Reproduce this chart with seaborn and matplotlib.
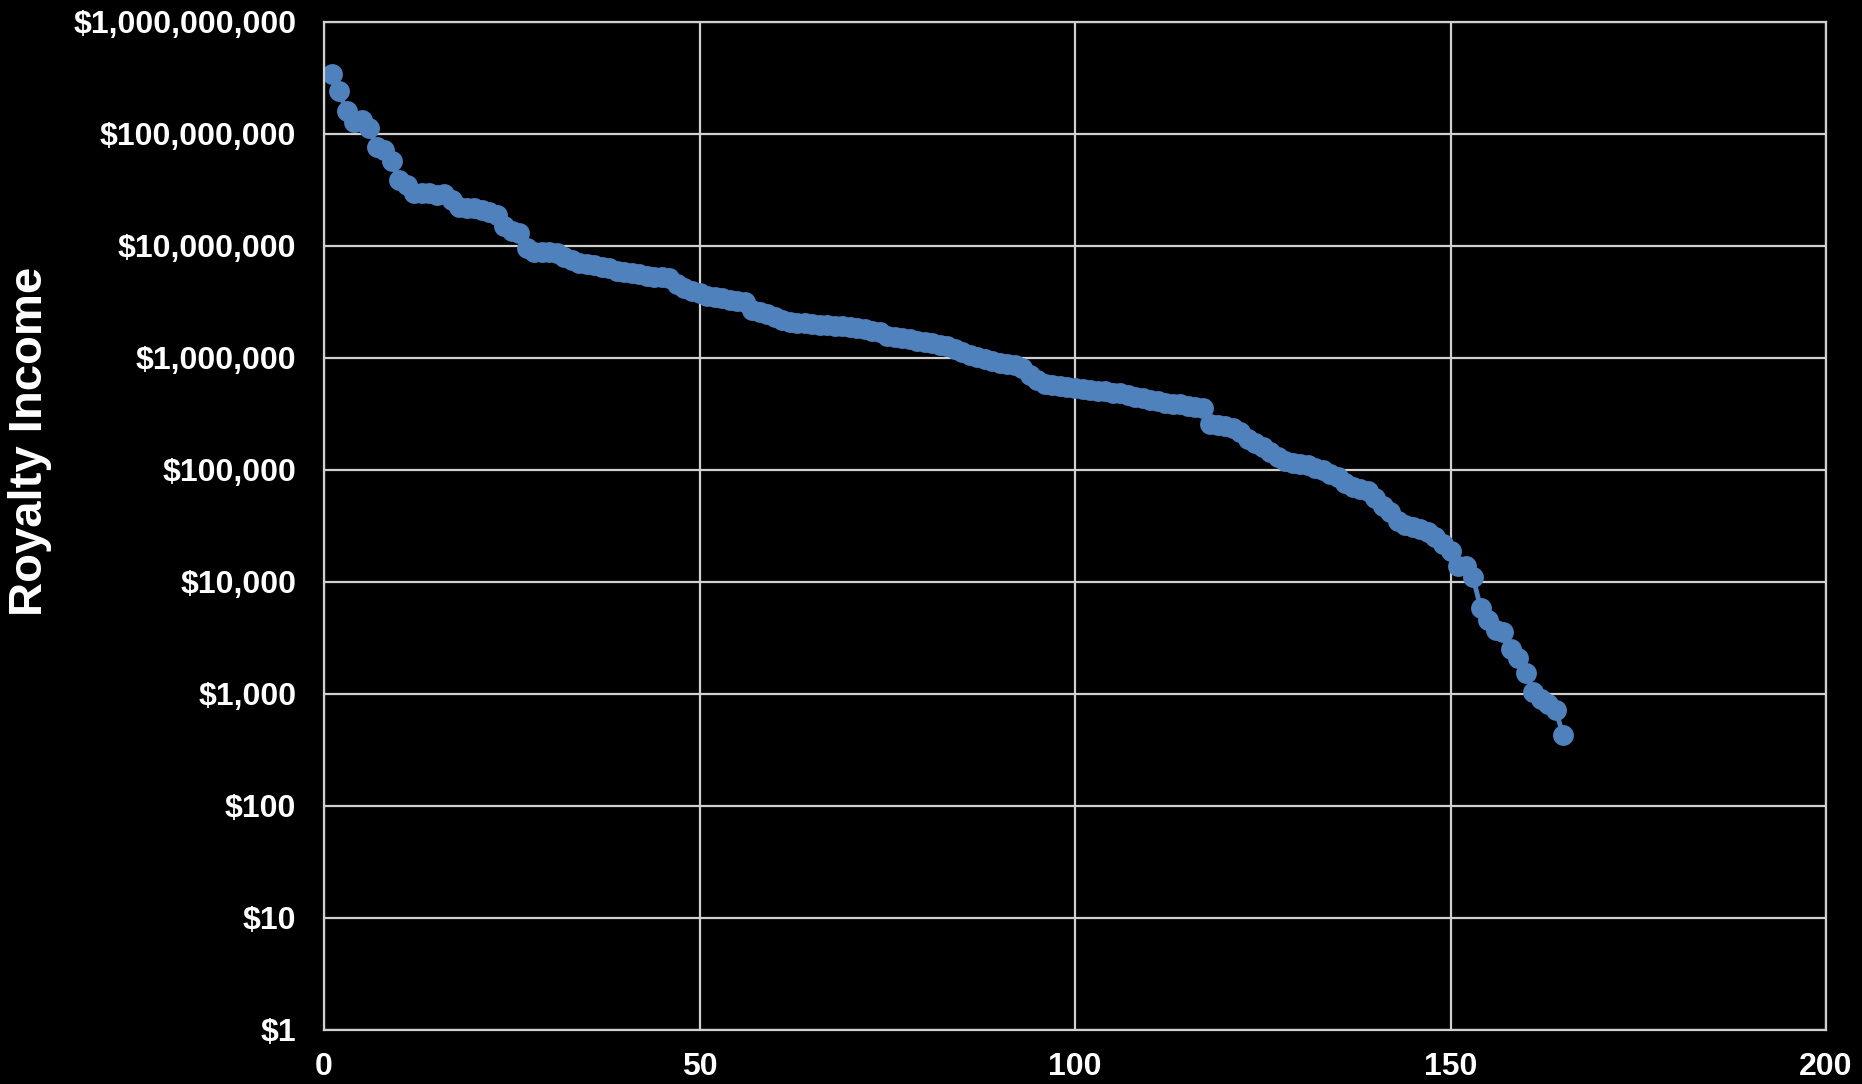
import numpy as np
import pandas as pd
import matplotlib
matplotlib.use("Agg")
import matplotlib.pyplot as plt
import seaborn as sns
from matplotlib.ticker import NullLocator

# --- DATA ---
rank = list(range(1, 166))
royalty = [
    3.4e8, 2.4e8, 1.6e8, 1.28e8, 1.33e8, 1.13e8, 7.6e7, 7.2e7, 5.7e7, 3.9e7,
    3.5e7, 3.0e7, 3.0e7, 2.95e7, 2.85e7, 2.9e7, 2.6e7, 2.25e7, 2.2e7, 2.2e7,
    2.1e7, 2.0e7, 1.9e7, 1.5e7, 1.35e7, 1.3e7, 9.6e6, 8.8e6, 8.9e6, 8.9e6,
    8.7e6, 8.0e6, 7.5e6, 7.1e6, 6.9e6, 6.8e6, 6.5e6, 6.3e6, 6.0e6, 5.8e6,
    5.7e6, 5.6e6, 5.4e6, 5.3e6, 5.3e6, 5.2e6, 4.6e6, 4.2e6, 4.0e6, 3.8e6,
    3.6e6, 3.5e6, 3.4e6, 3.3e6, 3.2e6, 3.15e6, 2.7e6, 2.6e6, 2.45e6, 2.3e6,
    2.2e6, 2.1e6, 2.07e6, 2.05e6, 2.0e6, 1.98e6, 1.96e6, 1.95e6, 1.92e6, 1.88e6,
    1.85e6, 1.8e6, 1.75e6, 1.7e6, 1.58e6, 1.55e6, 1.5e6, 1.47e6, 1.42e6, 1.38e6,
    1.35e6, 1.3e6, 1.28e6, 1.2e6, 1.12e6, 1.07e6, 1.02e6, 9.8e5, 9.4e5, 9.0e5,
    8.8e5, 8.7e5, 8.2e5, 7.0e5, 6.3e5, 5.9e5, 5.7e5, 5.6e5, 5.5e5, 5.4e5,
    5.3e5, 5.2e5, 5.1e5, 5.05e5, 4.9e5, 4.85e5, 4.7e5, 4.5e5, 4.35e5, 4.2e5,
    4.1e5, 4.0e5, 3.9e5, 3.85e5, 3.75e5, 3.65e5, 3.55e5, 2.6e5, 2.5e5, 2.45e5,
    2.35e5, 2.2e5, 1.9e5, 1.75e5, 1.6e5, 1.45e5, 1.3e5, 1.2e5, 1.15e5, 1.12e5,
    1.1e5, 1.05e5, 1.0e5, 9.2e4, 8.7e4, 7.6e4, 7.1e4, 6.8e4, 6.5e4, 5.6e4,
    4.8e4, 4.2e4, 3.5e4, 3.2e4, 3.1e4, 3.0e4, 2.8e4, 2.5e4, 2.2e4, 1.9e4,
    1.4e4, 1.4e4, 1.1e4, 5.9e3, 4.6e3, 3.7e3, 3.6e3, 2.5e3, 2.1e3, 1.55e3,
    1.05e3, 9.1e2, 8.2e2, 7.2e2, 4.3e2,
]
y_ticks = [1, 10, 100, 1000, 10000, 100000, 1000000, 10000000, 100000000, 1000000000]
y_tick_labels = ["$1", "$10", "$100", "$1,000", "$10,000", "$100,000",
                 "$1,000,000", "$10,000,000", "$100,000,000", "$1,000,000,000"]
x_ticks = [0, 50, 100, 150, 200]

df = pd.DataFrame({"rank": rank, "royalty": royalty})

sns.set_style("dark")
plt.rcParams["font.family"] = ["Liberation Sans", "DejaVu Sans"]

fig = plt.figure(figsize=(18.62, 10.84), dpi=100, facecolor="black")
ax = fig.add_axes([324 / 1862, 1 - 1030 / 1084, 1502 / 1862, 1008 / 1084])
ax.set_facecolor("black")

sns.lineplot(data=df, x="rank", y="royalty", ax=ax, color="#4F81BD",
             linewidth=3.5, marker="o", markersize=15, markeredgewidth=0)

ax.set_yscale("log")
ax.set_ylim(1, 1e9)
ax.set_xlim(0, 200)
ax.set_yticks(y_ticks)
ax.set_yticklabels(y_tick_labels)
ax.yaxis.set_minor_locator(NullLocator())
ax.set_xticks(x_ticks)

grid_col = "#D0D0D0"
ax.grid(True, which="major", color=grid_col, linewidth=1.6)
ax.set_axisbelow(True)
for sp in ax.spines.values():
    sp.set_visible(True)
    sp.set_color(grid_col)
    sp.set_linewidth(1.6)

ax.tick_params(axis="both", length=0, labelsize=23, labelcolor="white")
ax.tick_params(axis="y", pad=20)
ax.tick_params(axis="x", pad=16)
for lbl in ax.get_xticklabels() + ax.get_yticklabels():
    lbl.set_fontweight("bold")

ax.set_xlabel("")
ax.set_ylabel("Royalty Income", fontsize=34, fontweight="bold", color="white")
ax.yaxis.set_label_coords(-0.181, 0.584)

fig.savefig("out.png", dpi=100, facecolor="black")
